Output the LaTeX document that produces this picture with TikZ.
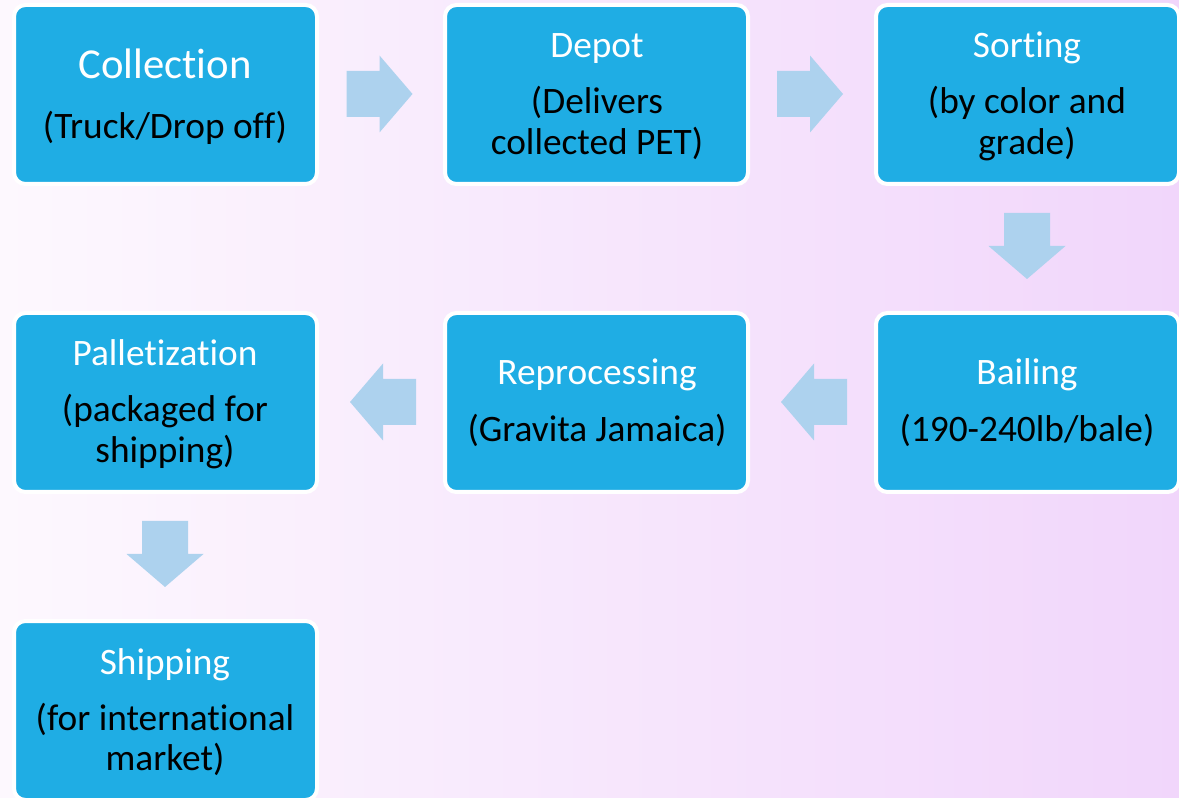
\documentclass[tikz,border=0pt]{standalone}
\usepackage{fontspec}
\setmainfont[Ligatures=NoCommon]{Carlito}
\usetikzlibrary{calc}
\definecolor{boxblue}{HTML}{1FADE4}
\definecolor{arrblue}{HTML}{ADD2EE}
\definecolor{bgl}{HTML}{FDF8FE}
\definecolor{bgr}{HTML}{F1D6FB}
\tikzset{
  box/.style={rounded corners=8.5pt, fill=boxblue, draw=white, line width=3pt,
    minimum width=227.25pt, minimum height=134.25pt, inner sep=0pt},
  ttl/.style={anchor=base, text=white, font=\fontsize{28}{33}\selectfont},
  sub/.style={anchor=base, text=black, font=\fontsize{28}{33}\selectfont},
  blockarrow/.pic={\fill[arrblue] (-33,-23) -- (0,-23) -- (0,-38.5) -- (33,0) -- (0,38.5) -- (0,23) -- (-33,23) -- cycle;}
}
\begin{document}
\begin{tikzpicture}[x=0.75pt,y=-0.75pt]
\useasboundingbox (0,0) rectangle (1179,798);
\shade[left color=bgl, right color=bgr] (0,0) rectangle (1179,798);
\clip (0,0) rectangle (1179,798);
% boxes
\node[box] (coll) at (165.5,94.5) {};
\node[box] (depot) at (596.5,94.5) {};
\node[box] (sort) at (1027.5,94.5) {};
\node[box] (bail) at (1027.5,402.5) {};
\node[box] (repr) at (596.5,402.5) {};
\node[box] (pall) at (165.5,402.5) {};
\node[box] (ship) at (165.5,710.5) {};
% texts
\node[ttl, font=\fontsize{32}{37}\selectfont] (t1) at (165,79) {Collection};
\node[sub] (s1) at (165,139) {(Truck/Drop off)};
\node[ttl] (t2) at (597,58) {Depot};
\node[sub] (s2a) at (597,114) {(Delivers};
\node[sub] (s2b) at (597,155) {collected PET)};
\node[ttl] (t3) at (1027,58) {Sorting};
\node[sub] (s3a) at (1027,114) {(by color and};
\node[sub] (s3b) at (1027,155) {grade)};
\node[ttl] (t4) at (1027,385) {Bailing};
\node[sub] (s4) at (1027,442) {(190-240lb/bale)};
\node[ttl] (t5) at (597,385) {Reprocessing};
\node[sub] (s5) at (597,442) {(Gravita Jamaica)};
\node[ttl] (t6) at (165,366) {Palletization};
\node[sub] (s6a) at (165,422) {(packaged for};
\node[sub] (s6b) at (165,463) {shipping)};
\node[ttl] (t7) at (165,674) {Shipping};
\node[sub] (s7a) at (165,730) {(for international};
\node[sub] (s7b) at (165,770) {market)};
% block arrows
\pic at (379.5,94) {blockarrow};
\pic at (810,94) {blockarrow};
\pic[rotate=-90] at (1027,246) {blockarrow};
\pic[rotate=180] at (814,402) {blockarrow};
\pic[rotate=180] at (383,402) {blockarrow};
\pic[rotate=-90] at (165,554) {blockarrow};
\end{tikzpicture}
\end{document}
